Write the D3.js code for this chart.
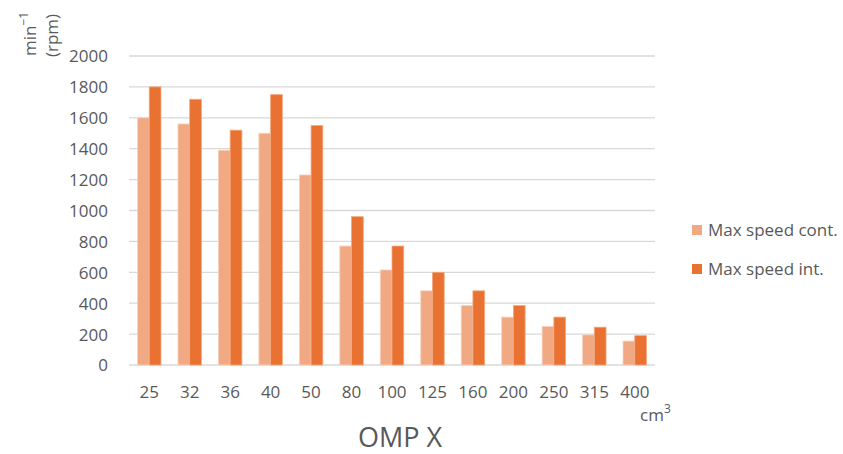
<!DOCTYPE html>
<html><head><meta charset="utf-8">
<script src="https://cdn.jsdelivr.net/npm/d3@7/dist/d3.min.js"></script>
<style>body{margin:0;background:#fff}text{font-family:"Open Sans","Liberation Sans",sans-serif;fill:#595959}</style>
</head><body><svg id="c" width="843" height="454"></svg>
<script>
const categories = ["25","32","36","40","50","80","100","125","160","200","250","315","400"];
const contValues = [1600,1560,1390,1500,1230,770,615,480,385,310,250,195,155];
const intValues = [1800,1720,1520,1750,1550,960,770,600,480,385,310,245,190];
const seriesNames = ["Max speed cont.","Max speed int."];
const yTicks = [0,200,400,600,800,1000,1200,1400,1600,1800,2000];
const colors = ["#F1A983","#E97132"];

const svg = d3.select("#c");
const x = d3.scaleBand().domain(categories).range([129,655]).paddingInner(0.42).paddingOuter(0.21);
const y = d3.scaleLinear().domain([0,2000]).range([365,56]);
const x1 = d3.scaleBand().domain([0,1]).range([0,x.bandwidth()]);

// grid
svg.append("g").selectAll("line").data(yTicks).join("line")
  .attr("x1",129).attr("x2",655).attr("y1",d=>y(d)).attr("y2",d=>y(d))
  .attr("stroke","#d9d9d9").attr("stroke-width",1.3);

// y axis labels
const yAxis = d3.axisLeft(y).tickValues(yTicks).tickFormat(d3.format("d")).tickSize(0).tickPadding(0);
const ga = svg.append("g").attr("transform","translate(108,0)").call(yAxis);
ga.select(".domain").remove();
ga.selectAll("text").style("font-size","17px").attr("fill","#595959").attr("dy","0.35em");

// x axis labels
const xAxis = d3.axisBottom(x).tickSize(0).tickPadding(0);
const gx = svg.append("g").attr("transform","translate(0,386)").call(xAxis);
gx.select(".domain").remove();
gx.selectAll("text").style("font-size","17px").attr("fill","#595959").attr("dy","0.71em");

// bars
const series = [contValues,intValues];
series.forEach((vals,si)=>{
  svg.append("g").selectAll("rect").data(vals).join("rect")
    .attr("x",(d,i)=>x(categories[i])+x1(si))
    .attr("y",d=>y(d))
    .attr("width",x1.bandwidth())
    .attr("height",d=>y(0)-y(d))
    .attr("fill",colors[si])
    .attr("stroke", si===0 ? "#F8D3BE" : "#F3A97F").attr("stroke-width",0.8);
});

// legend
seriesNames.forEach((n,i)=>{
  const ly = 230 + i*39;
  svg.append("rect").attr("x",692).attr("y",ly-5).attr("width",10).attr("height",10).attr("fill",colors[i]);
  svg.append("text").attr("x",708).attr("y",ly).attr("dy","0.35em").style("font-size","17px").text(n);
});

// y unit label
svg.append("text").attr("transform","translate(36,56) rotate(-90)").style("font-size","17px")
  .html('min<tspan dy="-8" style="font-size:12px">−1</tspan>');
svg.append("text").attr("transform","translate(58,57) rotate(-90)").style("font-size","17px").text("(rpm)");

// x unit label
svg.append("text").attr("x",640).attr("y",421).style("font-size","17px")
  .html('cm<tspan dy="-8" style="font-size:12px">3</tspan>');

// title
svg.append("text").attr("x",400).attr("y",447).attr("text-anchor","middle").style("font-size","27px").text("OMP X");
</script></body></html>
